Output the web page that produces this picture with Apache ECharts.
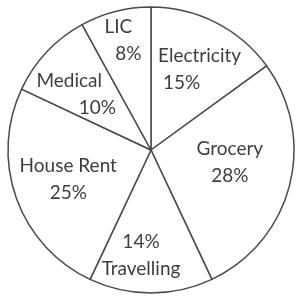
<!DOCTYPE html>
<html>
<head>
	<meta charset="utf-8">
	<title>Pie</title>
	<script type="text/javascript" src="https://cdn.jsdelivr.net/npm/echarts@6/dist/echarts.min.js"></script>
</head>
<style type="text/css">
html, body {
	margin: 0;
	padding: 0;
	background: #fff;
}
#chart {
	width: 296px;
	height: 299px;
}
</style>
<body>
	<div id="chart"></div>
</body>
<script type="text/javascript">
	// data
	var categories = ['Electricity', 'Grocery', 'Travelling', 'House Rent', 'Medical', 'LIC'];
	var values = [15, 28, 14, 25, 10, 8];

	// label placement: share of the radius along the mid angle, then a small nudge
	var labelDist = [0.64, 0.54, 0.72, 0.6, 0.66, 0.78];
	var labelNudge = [[7, 1], [4, -7], [-10, 2], [-2, 0], [-6, 9], [0, -2]];
	var cx = 151, cy = 150, R = 143;

	var total = 0;
	for (var i = 0; i < values.length; i++) total += values[i];
	var midAngle = [];
	var acc = 0;
	for (var i = 0; i < values.length; i++) {
		midAngle.push((acc + values[i] / 2) / total * 2 * Math.PI);
		acc += values[i];
	}

	var pieData = [];
	for (var i = 0; i < categories.length; i++) {
		pieData.push({ name: categories[i], value: values[i] });
	}

	var txt = '#3d3d3d';
	var fs = 19;
	var lh = 27;

	var Chart1 = echarts.init(document.getElementById('chart'));

	var option = {
		animation: false,
		backgroundColor: '#fff',
		series: [
			{
				type: 'pie',
				center: [cx, cy],
				radius: [0, R],
				startAngle: 90,
				clockwise: true,
				avoidLabelOverlap: false,
				itemStyle: {
					color: '#fff',
					borderColor: '#4a4a4a',
					borderWidth: 1.5
				},
				label: {
					show: true,
					position: 'inside',
					color: txt,
					fontFamily: 'Lato',
					fontSize: fs,
					lineHeight: lh,
					formatter: function (p) {
						var pct = p.value + '%';
						if (p.name == 'Travelling') return pct + '\n' + p.name;
						if (p.name == 'Medical') return '{med|Medical}\n{r|' + pct + '}';
						if (p.name == 'Electricity') return '{l|Electricity}\n{ind|' + pct + '}';
						if (p.name == 'LIC') return '{c|LIC}\n{lic|' + pct + '}';
						return p.name + '\n' + pct;
					},
					rich: {
						l: { fontFamily: 'Lato', fontSize: fs, lineHeight: lh, color: txt, align: 'left' },
						ind: { fontFamily: 'Lato', fontSize: fs, lineHeight: lh, color: txt, align: 'left', padding: [0, 0, 0, 5] },
						med: { fontFamily: 'Lato', fontSize: fs, lineHeight: lh, color: txt, align: 'left', padding: [0, 14, 0, 0] },
						r: { fontFamily: 'Lato', fontSize: fs, lineHeight: lh, color: txt, align: 'right' },
						c: { fontFamily: 'Lato', fontSize: fs, lineHeight: lh, color: txt, align: 'center', padding: [0, 10, 0, 0] },
						lic: { fontFamily: 'Lato', fontSize: fs, lineHeight: lh, color: txt, align: 'center', padding: [0, 0, 0, 10] }
					}
				},
				labelLine: { show: false },
				labelLayout: function (p) {
					var k = p.dataIndex;
					var a = midAngle[k];
					return {
						x: cx + Math.sin(a) * R * labelDist[k] + labelNudge[k][0],
						y: cy - Math.cos(a) * R * labelDist[k] + labelNudge[k][1],
						align: 'center',
						verticalAlign: 'middle'
					};
				},
				data: pieData
			}
		]
	};
	Chart1.setOption(option);
</script>
</html>
